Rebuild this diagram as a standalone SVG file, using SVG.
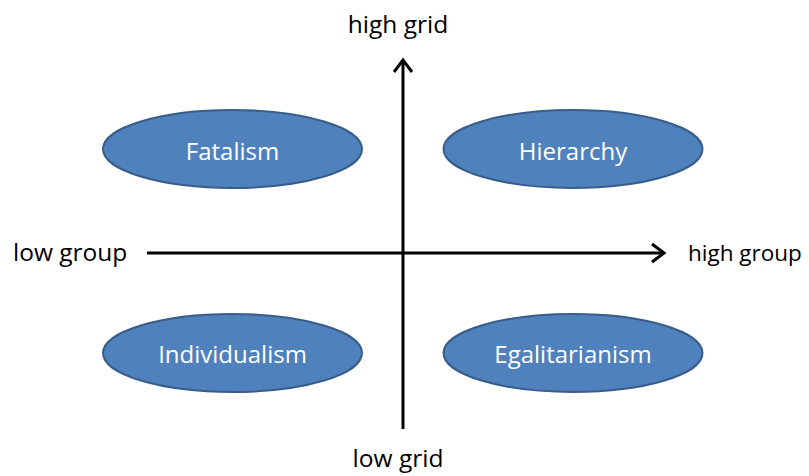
<svg xmlns="http://www.w3.org/2000/svg" width="809" height="476" viewBox="0 0 809 476">
<style>
.node ellipse{fill:#4F81BD;stroke:#385D8A;stroke-width:2}
.node text{fill:#FFFFFF;font-family:"Open Sans","Liberation Sans",sans-serif;font-size:24px;text-anchor:middle}
.lbl{fill:#000;font-family:"Open Sans","Liberation Sans",sans-serif;font-size:24.5px}
.axis{stroke:#000;stroke-width:3;fill:none}
.head{stroke:#000;stroke-width:3;fill:none;stroke-linecap:butt;stroke-linejoin:miter}
</style>
<rect width="809" height="476" fill="#fff"/>
<g id="connectors">
<line class="axis" x1="147" y1="253" x2="664" y2="253"/>
<polyline class="head" points="652,244 664,253 652,262"/>
<line class="axis" x1="403" y1="429" x2="403" y2="60"/>
<polyline class="head" points="394,72 403,60 412,72"/>
</g>
<g id="fatalism" class="node"><ellipse cx="232.5" cy="149" rx="129.5" ry="39"/><text x="232.5" y="160">Fatalism</text></g>
<g id="hierarchy" class="node"><ellipse cx="573" cy="149" rx="129.5" ry="39"/><text x="573" y="160">Hierarchy</text></g>
<g id="individualism" class="node"><ellipse cx="232.5" cy="353" rx="129.5" ry="39"/><text x="232.5" y="363">Individualism</text></g>
<g id="egalitarianism" class="node"><ellipse cx="573" cy="353" rx="129.5" ry="39"/><text x="573" y="363">Egalitarianism</text></g>
<text class="lbl" x="398" y="33" text-anchor="middle">high grid</text>
<text class="lbl" x="398" y="467" text-anchor="middle">low grid</text>
<text class="lbl" x="13" y="261">low group</text>
<text class="lbl" x="688" y="261" style="font-size:22.5px">high group</text>
</svg>
